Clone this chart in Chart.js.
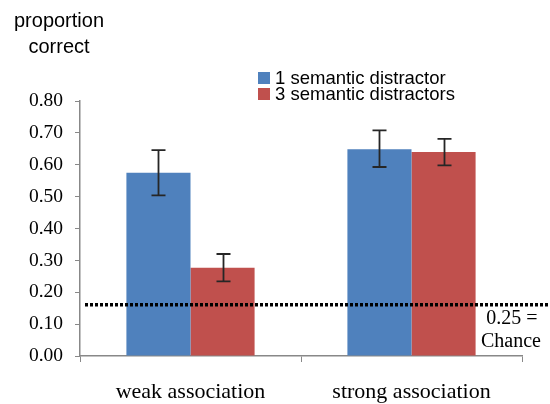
<!DOCTYPE html>
<html>
<head>
<meta charset="utf-8">
<script src="https://cdn.jsdelivr.net/npm/chart.js@4/dist/chart.umd.min.js"></script>
<style>
html,body{margin:0;padding:0;background:#fff;}
#wrap{width:550px;height:404px;position:relative;}
</style>
</head>
<body>
<div id="wrap"><canvas id="c" width="550" height="404"></canvas></div>
<script>
const categories = ["weak association", "strong association"];
const seriesNames = ["1 semantic distractor", "3 semantic distractors"];
const oneDistractor = [0.575, 0.649];
const threeDistractors = [0.277, 0.640];
const oneErrLow = [0.504, 0.593];
const oneErrHigh = [0.646, 0.708];
const threeErrLow = [0.234, 0.598];
const threeErrHigh = [0.320, 0.681];
const chanceValue = 0.161;
const chanceLabel = ["0.25 =", "Chance"];
const yTicks = [0, 0.1, 0.2, 0.3, 0.4, 0.5, 0.6, 0.7, 0.8];
const yTitle = ["proportion", "correct"];

const errLow = [oneErrLow, threeErrLow];
const errHigh = [oneErrHigh, threeErrHigh];

const overlay = {
  id: 'overlay',
  afterDatasetsDraw(chart) {
    const ctx = chart.ctx;
    const y = chart.scales.y;
    const area = chart.chartArea;
    // error bars
    ctx.save();
    ctx.strokeStyle = '#262626';
    ctx.lineWidth = 1.8;
    chart.data.datasets.forEach((ds, di) => {
      const meta = chart.getDatasetMeta(di);
      meta.data.forEach((bar, i) => {
        const x = Math.round(bar.x) + 0.5;
        const yl = y.getPixelForValue(errLow[di][i]);
        const yh = y.getPixelForValue(errHigh[di][i]);
        ctx.beginPath();
        ctx.moveTo(x, yl); ctx.lineTo(x, yh);
        ctx.moveTo(x - 7, yl); ctx.lineTo(x + 7, yl);
        ctx.moveTo(x - 7, yh); ctx.lineTo(x + 7, yh);
        ctx.stroke();
      });
    });
    // chance line
    const cy = y.getPixelForValue(chanceValue);
    ctx.strokeStyle = '#000';
    ctx.lineWidth = 3.5;
    ctx.setLineDash([3, 2]);
    ctx.beginPath();
    ctx.moveTo(area.left + 5, cy);
    ctx.lineTo(548, cy);
    ctx.stroke();
    ctx.setLineDash([]);
    // chance label
    ctx.fillStyle = '#000';
    ctx.font = '20px "Liberation Serif", serif';
    ctx.textAlign = 'center';
    ctx.textBaseline = 'middle';
    ctx.fillText(chanceLabel[0], 512, cy + 14);
    ctx.fillText(chanceLabel[1], 511, cy + 37);
    // y title
    ctx.font = '20px "Liberation Sans", Arial, sans-serif';
    ctx.fillText(yTitle[0], 59, 21);
    ctx.fillText(yTitle[1], 59, 47);
    // legend
    ctx.textAlign = 'left';
    ctx.font = '18.5px "Liberation Sans", Arial, sans-serif';
    chart.data.datasets.forEach((ds, di) => {
      const ly = 78 + di * 16;
      ctx.fillStyle = ds.backgroundColor;
      ctx.fillRect(258, ly - 6, 12, 12);
      ctx.fillStyle = '#000';
      ctx.fillText(ds.label, 275, ly + 1);
    });
    ctx.restore();
  }
};

new Chart(document.getElementById('c'), {
  type: 'bar',
  data: {
    labels: categories,
    datasets: [
      { label: seriesNames[0], data: oneDistractor, backgroundColor: '#4F81BD', borderWidth: 0 },
      { label: seriesNames[1], data: threeDistractors, backgroundColor: '#C0504D', borderWidth: 0 }
    ]
  },
  options: {
    responsive: false,
    animation: false,
    devicePixelRatio: 1,
    layout: { padding: { left: 0, right: 28, top: 101, bottom: 0 } },
    plugins: { legend: { display: false }, tooltip: { enabled: false }, title: { display: false } },
    datasets: { bar: { categoryPercentage: 0.58, barPercentage: 1.0 } },
    scales: {
      x: {
        afterFit(s) { s.height = 48; },
        grid: { drawOnChartArea: false, drawTicks: true, tickLength: 6, color: '#888', offset: true },
        border: { display: true, color: '#888', width: 1.5 },
        ticks: { color: '#000', font: { family: '"Liberation Serif", serif', size: 22 }, padding: 17, maxRotation: 0 }
      },
      y: {
        min: 0, max: 0.8,
        afterFit(s) { s.width = 80; },
        afterBuildTicks(s) { s.ticks = yTicks.map(v => ({ value: v })); },
        grid: { drawOnChartArea: false, drawTicks: true, tickLength: 5, color: '#888' },
        border: { display: true, color: '#888', width: 1.5 },
        ticks: { color: '#000', font: { family: '"Liberation Serif", serif', size: 19.5 }, padding: 12, callback: v => Number(v).toFixed(2) }
      }
    }
  },
  plugins: [overlay]
});
</script>
</body>
</html>
